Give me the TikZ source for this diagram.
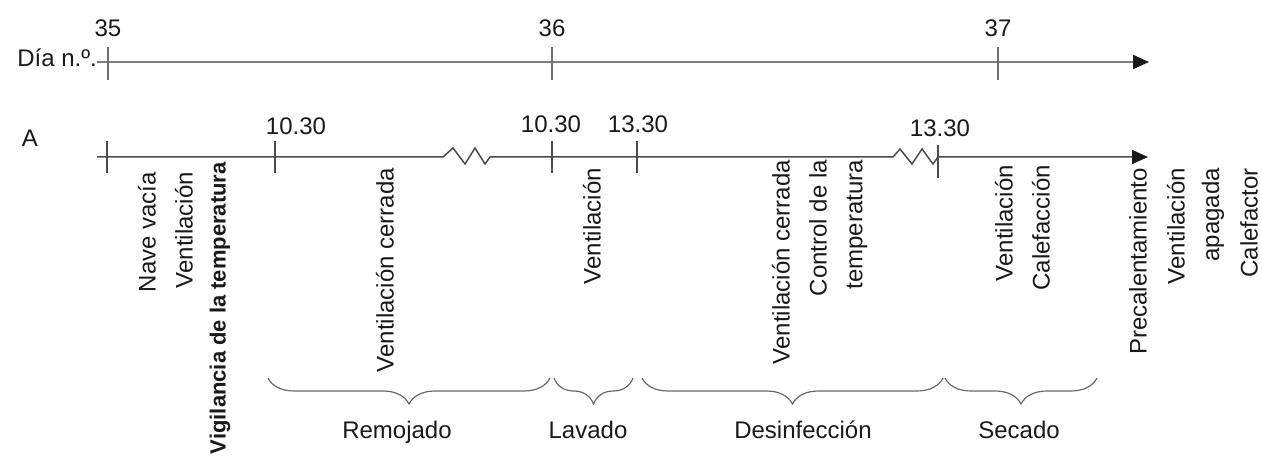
\documentclass[tikz,border=0pt]{standalone}
\usepackage{fontspec}
\setmainfont{Liberation Sans}
\usetikzlibrary{positioning,arrows.meta,decorations.pathreplacing}
\definecolor{eje}{RGB}{125,125,125}
\definecolor{ejeA}{RGB}{75,75,75}
\definecolor{texto}{RGB}{25,25,25}
\definecolor{llave}{RGB}{105,105,105}

\begin{document}
\begin{tikzpicture}[x=1pt, y=-1pt,
    every node/.style={font=\fontsize{24}{28}\selectfont, text=texto, inner sep=0pt},
    vertical/.style={rotate=90, anchor=east},
    marca/.style={draw=ejeA, line width=1.3pt},
    punta/.style={-{Triangle[length=16pt, width=14pt, color=texto]}},
    llavebaja/.style={draw=llave, line width=1.2pt,
        decorate, decoration={brace, mirror, amplitude=26pt}}]
    \useasboundingbox (0,0) rectangle (1262,457);

    % Eje de los días
    \node[anchor=base east] (dia) at (97,67) {Día n.º.};
    \coordinate (d0) at (97,62);
    \coordinate (d1) at (1149,62);
    \draw[eje, line width=2.2pt, punta] (d0) -- (d1);
    \foreach \x/\d in {108/35, 552/36, 998/37} {
        \draw[marca, draw=ejeA!80] (\x,47) -- (\x,80);
        \node[anchor=south] (dia\d) at (\x,37) {\d};
    }

    % Eje A con los cortes
    \node[anchor=base] (ejeA) at (30,147) {A};
    \coordinate (a0) at (97,157);
    \coordinate (a1) at (1148,157);
    \draw[ejeA, line width=1.5pt, punta] (a0) -- (443,157) -- (453,148) -- (465,164)
        -- (475,148) -- (485,164) -- (490,157) -- (893,157) -- (900,149) -- (912,164)
        -- (922,149) -- (933,164) -- (938,157) -- (a1);
    \foreach \x in {107, 275, 552, 637} {
        \draw[marca] (\x,141) -- (\x,173);
    }
    \draw[marca] (938,145) -- (938,178);

    % Horas
    \node[anchor=south] (h1) at (296,135) {10.30};
    \node[anchor=south] (h2) at (551,133) {10.30};
    \node[anchor=south] (h3) at (638,133) {13.30};
    \node[anchor=south] (h4) at (940,137) {13.30};

    % Textos verticales
    \node[vertical] (nave) at (147,172) {Nave vacía};
    \node[vertical] (vent1) at (184,172) {Ventilación};
    \node[vertical, font=\fontsize{22}{26}\selectfont\bfseries] (vigi) at (220,162)
        {Vigilancia de la temperatura};
    \node[vertical] (vent2) at (385,168) {Ventilación cerrada};
    \node[vertical] (vent3) at (592,168) {Ventilación};
    \node[vertical] (vent4) at (781,160) {Ventilación cerrada};
    \node[vertical] (ctrl) at (818,160) {Control de la};
    \node[vertical] (temp) at (857,160) {temperatura};
    \node[vertical] (vent5) at (1004,165) {Ventilación};
    \node[vertical] (cale1) at (1041,165) {Calefacción};
    \node[vertical] (prec) at (1138,168) {Precalentamiento};
    \node[vertical] (vent6) at (1176,168) {Ventilación};
    \node[vertical] (apag) at (1213,168) {apagada};
    \node[vertical] (cale2) at (1249,168) {Calefactor};

    % Llaves de las fases
    \foreach \n/\xa/\xb in {rem/268/550, lav/554/633, des/642/943, sec/945/1097} {
        \coordinate (\n0) at (\xa,378);
        \coordinate (\n1) at (\xb,378);
        \draw[llavebaja] (\n0) -- (\n1);
    }
    \node[anchor=base] (remojado) at (397,438) {Remojado};
    \node[anchor=base] (lavado) at (588,438) {Lavado};
    \node[anchor=base] (desinf) at (803,438) {Desinfección};
    \node[anchor=base] (secado) at (1019,438) {Secado};
\end{tikzpicture}
\end{document}
